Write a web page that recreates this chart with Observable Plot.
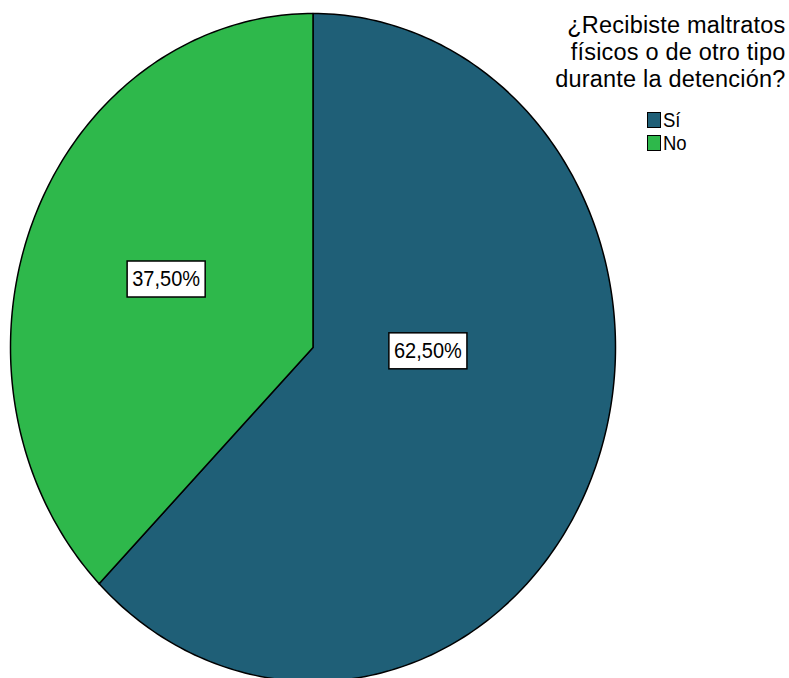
<!DOCTYPE html>
<html><head><meta charset="utf-8">
<script src="https://cdn.jsdelivr.net/npm/d3@7"></script>
<script src="https://cdn.jsdelivr.net/npm/@observablehq/plot@0.6"></script>
<style>
html,body{margin:0;padding:0;background:#fff;}
#wrap{position:relative;width:789px;height:678px;overflow:hidden;font-family:"Liberation Sans",Arial,sans-serif;}
#legend{position:absolute;left:647px;top:108px;}
.item{display:flex;align-items:center;height:23px;font-size:18.5px;color:#000;}
.sw{box-sizing:border-box;width:14px;height:16px;border:1.5px solid #000;margin-right:2px;}
.item span{display:inline-block;transform:scaleY(1.12);transform-origin:left center;}
</style></head><body><div id="wrap"></div>
<script>
const categories = ["Sí", "No"];
const percentages = [62.5, 37.5];
const percentLabels = ["62,50%", "37,50%"];
const colors = ["#1f5f77", "#2eb84b"];
const titleLines = ["¿Recibiste maltratos", "físicos o de otro tipo", "durante la detención?"];

// layout (label placement relative to slice mid-angle)
const labelRadius = [0.38, 0.527];
const labelTurn = [-21, 0.4];

const total = d3.sum(percentages);
const points = [];
const labels = [];
let start = 0;
categories.forEach((cat, i) => {
  const a0 = start, a1 = start + percentages[i] / total * 360;
  points.push({cat, x: 0, y: 0});
  const n = Math.max(2, Math.ceil(a1 - a0));
  for (let k = 0; k <= n; k++) {
    const t = (a0 + (a1 - a0) * k / n) * Math.PI / 180;
    points.push({cat, x: Math.sin(t), y: Math.cos(t)});
  }
  const m = ((a0 + a1) / 2 + labelTurn[i]) * Math.PI / 180;
  labels.push({cat, text: percentLabels[i], x: labelRadius[i] * Math.sin(m), y: labelRadius[i] * Math.cos(m)});
  start = a1;
});

const font = "Liberation Sans, Arial, sans-serif";
const chart = Plot.plot({
  width: 789, height: 678, margin: 0,
  x: {domain: [-1, 1], range: [10, 615], axis: null},
  y: {domain: [-1, 1], range: [681, 13], axis: null},
  color: {domain: categories, range: colors},
  style: {fontFamily: font, background: "#fff"},
  marks: [
    Plot.line(points, {x: "x", y: "y", z: "cat", fill: "cat", stroke: "#000", strokeWidth: 1.5, curve: "linear-closed"}),
    Plot.text(labels, {x: "x", y: "y", text: "text", fontSize: 20, fill: "#000"}),
    Plot.text([titleLines.join("\n")], {text: d => d, frameAnchor: "top-right", textAnchor: "end", lineAnchor: "top", dx: -4, dy: 13, fontSize: 23.5, lineHeight: 1.149, fill: "#000"})
  ]
});
const wrap = document.getElementById("wrap");
wrap.appendChild(chart);

const svgNS = "http://www.w3.org/2000/svg";
function baseTransform(t) {
  let tr = t.getAttribute("transform");
  if (!tr) {
    const x = t.getAttribute("x") || 0, y = t.getAttribute("y") || 0;
    tr = `translate(${x},${y})`;
    t.removeAttribute("x"); t.removeAttribute("y");
    t.setAttribute("transform", tr);
  }
  return tr;
}
chart.querySelectorAll("text").forEach(t => {
  const txt = t.textContent;
  if (percentLabels.includes(txt)) {
    const tr = baseTransform(t);
    const b = t.getBBox();
    const w = b.width + 10, h = 36;
    const r = document.createElementNS(svgNS, "rect");
    r.setAttribute("x", -w / 2);
    r.setAttribute("y", -h / 2);
    r.setAttribute("width", w);
    r.setAttribute("height", h);
    r.setAttribute("fill", "#fff");
    r.setAttribute("stroke", "#000");
    r.setAttribute("stroke-width", 1.5);
    r.setAttribute("transform", tr);
    t.parentNode.insertBefore(r, t);
    t.setAttribute("transform", tr + " scale(1,1.1)");
  } else if (txt.startsWith(titleLines[0])) {
    t.style.letterSpacing = "0.2px";
  }
});

// legend
const legend = document.createElement("div");
legend.id = "legend";
categories.forEach((c, i) => {
  const it = document.createElement("div");
  it.className = "item";
  const sw = document.createElement("div");
  sw.className = "sw";
  sw.style.background = colors[i];
  const lab = document.createElement("span");
  lab.textContent = c;
  it.appendChild(sw); it.appendChild(lab);
  legend.appendChild(it);
});
wrap.appendChild(legend);
</script></body></html>
